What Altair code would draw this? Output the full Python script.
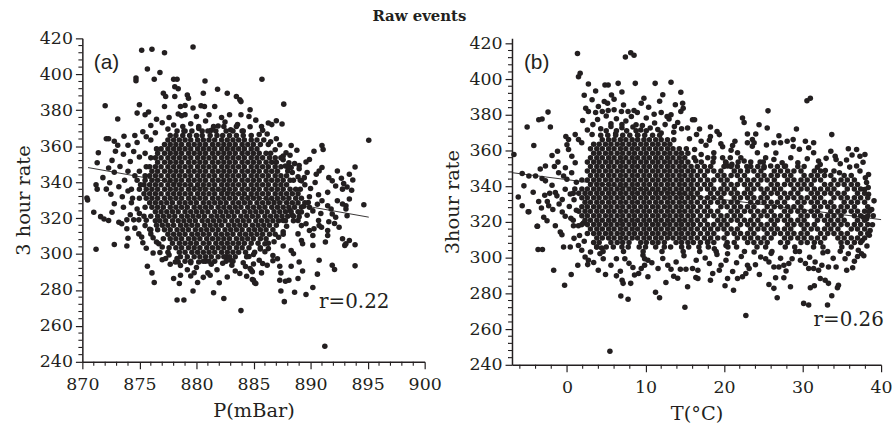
import altair as alt
import pandas as pd

INK = "#231f20"

# ---------------- panel (a): pressure ----------------
a_outer = [
    (875.2, 413.4), (876.1, 414.0), (877.2, 412.0), (879.7, 415.2), (875.7, 402.9), (876.8, 401.0),
    (874.7, 398.0), (874.7, 396.4), (876.3, 397.2), (878.0, 397.2), (878.3, 397.2), (878.1, 393.1),
    (878.4, 391.9), (880.75, 396.3), (877.1, 389.5), (877.3, 387.6), (878.1, 387.6), (879.2, 388.5),
    (879.3, 386.7), (880.6, 389.5), (881.85, 391.7), (882.7, 389.5), (883.5, 387.6), (883.8, 385.8),
    (883.9, 384.8), (872.0, 382.5), (875.0, 383.0), (877.2, 382.1), (878.6, 382.1), (879.0, 382.6),
    (879.7, 381.2), (880.4, 382.5), (880.7, 382.1), (881.6, 382.1), (884.7, 380.3), (874.8, 378.4),
    (875.5, 377.5), (875.8, 379.0), (878.4, 377.9), (878.7, 376.9), (879.0, 377.5), (881.1, 377.5),
    (882.9, 377.5), (883.9, 377.5), (873.1, 375.1), (872.1, 364.1), (872.3, 364.2), (873.65, 365.5),
    (871.4, 356.3), (871.3, 350.8), (872.9, 357.2), (872.6, 352.1), (871.8, 342.5), (871.2, 338.5),
    (871.3, 336.1), (872.1, 336.1), (870.4, 331.1),
    (885.74, 397.2), (887.65, 383.4), (885.7, 371.0), (885.8, 368.8), (886.3, 372.9), (886.6, 372.0),
    (887.0, 374.2), (887.5, 372.4), (887.0, 364.2), (888.3, 360.4), (895.1, 363.3), (890.3, 357.2),
    (891.0, 360.4), (891.1, 358.2), (887.85, 356.3), (887.6, 354.5), (889.9, 352.6), (889.6, 351.2),
    (889.0, 349.3), (888.6, 350.3), (888.1, 350.8), (892.35, 346.2), (893.9, 348.4), (893.4, 344.4),
    (893.7, 341.2), (891.6, 342.5), (891.9, 340.7), (892.7, 342.2), (892.9, 339.2), (893.2, 337.3),
    (893.6, 335.5), (891.5, 334.3), (891.0, 348.1), (890.75, 346.2), (890.5, 344.4), (889.7, 345.3),
    (889.45, 342.5), (889.2, 340.7), (888.3, 348.1), (888.0, 346.2), (892.8, 336.1), (892.2, 337.9),
    (893.4, 330.6), (893.1, 326.9),
    (870.46, 330.0), (871.0, 323.2), (871.6, 320.8), (871.9, 319.5), (872.3, 318.6), (872.6, 323.2),
    (873.2, 317.7), (873.45, 316.8), (873.9, 319.0), (874.5, 319.0), (874.95, 319.0), (873.9, 314.0),
    (874.6, 314.4), (874.95, 311.2), (875.2, 309.4), (871.2, 302.6), (872.8, 305.3), (873.9, 304.4),
    (875.7, 293.2), (876.1, 289.5), (876.3, 284.2), (878.0, 286.4), (878.6, 288.2), (878.5, 283.6),
    (878.3, 274.4), (878.9, 274.4), (879.7, 279.4), (879.5, 287.7), (880.1, 284.2), (879.5, 295.2),
    (877.7, 294.3), (878.15, 295.6), (878.4, 295.6), (881.0, 289.5), (881.2, 288.2), (882.0, 284.0),
    (881.5, 278.5), (882.4, 275.3), (883.9, 268.5), (883.8, 289.1), (884.8, 291.0), (884.9, 285.8),
    (885.1, 284.0), (880.2, 295.6), (881.3, 294.3), (883.1, 293.7), (882.6, 298.4), (876.7, 305.7),
    (877.0, 303.9), (875.5, 315.8), (876.0, 311.2),
    (894.67, 327.4), (893.2, 321.3), (892.5, 314.9), (892.8, 308.5), (893.1, 305.7), (893.0, 304.8),
    (891.5, 313.1), (891.5, 310.3), (891.3, 306.7), (890.2, 304.8), (890.75, 296.5), (891.9, 293.7),
    (892.1, 291.4), (893.9, 293.4), (890.6, 288.8), (890.2, 281.4), (889.6, 277.5), (888.6, 278.7),
    (887.7, 273.5), (887.4, 279.4), (888.9, 286.4), (888.1, 285.4), (891.25, 248.7), (888.3, 293.2),
    (889.0, 295.6), (889.3, 290.6), (887.4, 289.5), (887.3, 285.4), (887.8, 284.9), (885.0, 285.4),
    (885.2, 283.6), (885.7, 289.5), (890.2, 310.3), (890.3, 314.0), (888.3, 302.0), (888.5, 300.2),
    (888.9, 311.2), (889.2, 307.5), (889.3, 305.7), (886.0, 305.7), (886.3, 303.0), (886.7, 299.2),
    (887.1, 297.4), (887.3, 293.2), (885.5, 296.5), (885.8, 294.7), (884.7, 291.9), (884.9, 290.1),
    (892.35, 329.6), (892.8, 327.8), (893.1, 325.0), (891.0, 329.6), (891.5, 326.9), (891.8, 325.0),
    (891.9, 322.3), (892.2, 320.5), (890.7, 318.6), (890.75, 315.8), (890.96, 314.9), (889.6, 316.8),
    (889.9, 313.1), (888.9, 318.6), (889.2, 315.8), (893.4, 307.5), (893.9, 305.2),
]
a_halo_top = [
    (875.3, 368.0), (876.0, 371.5), (876.4, 367.5), (877.0, 373.0), (877.5, 369.5), (878.0, 371.8),
    (878.9, 368.4), (879.5, 372.5), (880.2, 369.8), (880.8, 374.0), (881.3, 368.8), (881.9, 371.2),
    (882.5, 373.5), (883.0, 369.2), (883.6, 372.0), (884.1, 368.5), (884.7, 370.8), (885.2, 374.5),
    (884.6, 376.5), (882.2, 376.0), (880.0, 376.5), (877.6, 376.0), (876.5, 375.0), (885.5, 366.5),
    (886.2, 366.8), (875.6, 365.3), (874.8, 362.0), (874.6, 366.0), (876.0, 363.5), (886.5, 362.5),
    (887.3, 360.8), (886.9, 358.0), (887.6, 352.5), (888.2, 355.0), (888.8, 357.7),
]
a_halo_left = [
    (874.0, 360.5), (874.5, 357.0), (875.0, 354.0), (873.6, 355.5), (874.2, 351.5), (873.3, 348.7),
    (874.0, 346.0), (874.6, 343.6), (873.7, 341.0), (872.8, 345.5), (872.4, 339.6), (873.2, 337.4),
    (874.0, 335.0), (873.5, 331.8), (872.5, 333.2), (874.3, 328.5), (873.6, 326.0), (874.8, 325.0),
    (875.0, 322.5), (872.8, 328.0), (874.2, 321.8), (875.6, 318.8), (875.9, 313.8), (876.2, 309.0),
    (876.5, 306.7), (875.3, 306.3), (874.0, 308.8), (876.8, 300.8), (877.6, 299.5), (877.3, 297.5),
    (872.3, 347.8), (873.1, 360.5), (872.8, 362.8),
]
a_halo_right = [
    (887.8, 349.0), (888.4, 345.3), (889.0, 347.5), (888.9, 343.0), (889.5, 338.5), (890.0, 336.4),
    (890.4, 339.8), (890.7, 333.0), (889.9, 331.8), (890.6, 327.7), (890.2, 324.0), (889.7, 321.6),
    (890.9, 322.5), (889.4, 326.6), (889.0, 320.8), (888.4, 321.6), (889.2, 323.4), (889.8, 328.6),
    (887.9, 315.5), (887.6, 312.4), (887.2, 309.3), (886.8, 306.8), (887.6, 304.4), (886.0, 301.3),
    (886.7, 296.3), (886.2, 293.8), (885.0, 299.7), (885.6, 302.8), (884.6, 298.6), (885.0, 294.4),
    (887.6, 318.7), (888.2, 324.2), (891.6, 318.0), (892.1, 317.0),
]
a_halo_bottom = [
    (878.6, 293.6), (879.2, 291.2), (880.0, 292.5), (880.8, 296.0), (879.8, 289.6), (881.8, 291.3),
    (882.3, 294.8), (883.4, 290.5), (883.0, 296.5), (884.1, 295.1), (884.3, 293.1), (882.7, 287.2),
    (880.6, 287.0), (878.3, 297.5), (877.0, 296.8), (876.2, 300.5), (875.6, 303.2), (884.4, 287.6),
]
a_core_r = [296, 298.5, 301, 303.5, 306, 308.5, 311, 313.5, 316, 318.5, 321, 323.5, 326, 328.5,
            331, 333.5, 336, 338.5, 341, 343.5, 346, 348.5, 351, 353.5, 356, 358.5, 361, 363.5, 366,
            368.5, 371]
a_core_p = [
    [879.0, 879.5, 880.6, 881.1, 881.6, 882.6, 883.2],
    [878.6, 879.2, 879.8, 880.3, 880.8, 881.3, 881.9, 882.4, 882.9, 883.4, 884.4],
    [877.5, 878.5, 879.0, 879.6, 880.1, 880.6, 881.1, 881.6, 882.2, 882.7, 883.2, 883.7, 884.3, 885.1],
    [877.6, 878.2, 878.7, 879.3, 879.8, 880.3, 880.9, 881.4, 881.9, 882.4, 882.9, 883.5, 884.0, 884.6, 885.6],
    [877.9, 878.5, 879.0, 879.5, 880.0, 880.6, 881.1, 881.7, 882.2, 882.7, 883.2, 883.7, 884.2, 884.8, 885.4, 886.3],
    [877.1, 877.7, 878.2, 878.7, 879.3, 879.8, 880.3, 880.9, 881.4, 881.9, 882.4, 882.9, 883.5, 884.0, 884.5, 885.0, 885.6, 886.1],
    [877.5, 878.0, 878.5, 879.0, 879.6, 880.1, 880.6, 881.1, 881.7, 882.2, 882.7, 883.2, 883.8, 884.3, 884.8, 885.3, 885.8, 886.4, 886.9, 887.6],
    [876.0, 876.6, 877.2, 877.7, 878.3, 878.8, 879.3, 879.9, 880.4, 880.9, 881.4, 881.9, 882.5, 883.0, 883.5, 884.0, 884.6, 885.1, 885.6, 886.1, 886.7],
    [876.5, 877.0, 877.5, 878.0, 878.6, 879.1, 879.6, 880.1, 880.7, 881.2, 881.7, 882.2, 882.8, 883.3, 883.8, 884.3, 884.9, 885.4, 885.9, 886.4, 887.0],
    [876.4, 876.8, 877.3, 877.9, 878.4, 878.9, 879.4, 879.9, 880.5, 881.0, 881.5, 882.0, 882.5, 883.1, 883.6, 884.1, 884.6, 885.2, 885.7, 886.2, 886.7, 887.2, 887.8, 888.5],
    [875.4, 876.0, 876.6, 877.1, 877.6, 878.1, 878.7, 879.2, 879.7, 880.2, 880.7, 881.3, 881.8, 882.3, 882.8, 883.3, 883.9, 884.4, 884.9, 885.4, 886.0, 886.5, 887.0, 887.5, 888.0, 888.5],
    [876.4, 876.9, 877.4, 877.9, 878.4, 879.0, 879.5, 880.0, 880.5, 881.0, 881.6, 882.1, 882.6, 883.1, 883.6, 884.2, 884.7, 885.2, 885.7, 886.2, 886.8, 887.3, 887.8, 888.3, 888.9],
    [875.5, 876.1, 876.6, 877.1, 877.7, 878.2, 878.7, 879.2, 879.8, 880.3, 880.8, 881.3, 881.9, 882.4, 882.9, 883.4, 883.9, 884.5, 885.0, 885.5, 886.0, 886.6, 887.1, 887.6, 888.1, 888.6, 889.2, 889.9],
    [875.9, 876.4, 876.9, 877.4, 877.9, 878.5, 879.0, 879.5, 880.0, 880.6, 881.1, 881.6, 882.1, 882.6, 883.2, 883.7, 884.2, 884.7, 885.3, 885.8, 886.3, 886.8, 887.3, 887.9, 888.4, 888.9, 889.5],
    [874.4, 875.0, 875.6, 876.1, 876.6, 877.2, 877.7, 878.2, 878.7, 879.3, 879.8, 880.3, 880.8, 881.4, 881.9, 882.4, 882.9, 883.4, 884.0, 884.5, 885.0, 885.5, 886.1, 886.6, 887.1, 887.6, 888.1, 888.7, 889.2],
    [875.4, 875.9, 876.4, 876.9, 877.5, 878.0, 878.5, 879.0, 879.5, 880.1, 880.6, 881.1, 881.6, 882.2, 882.7, 883.2, 883.7, 884.2, 884.8, 885.3, 885.8, 886.3, 886.9, 887.4, 887.9, 888.4, 888.9],
    [874.3, 875.0, 875.6, 876.1, 876.6, 877.2, 877.7, 878.2, 878.7, 879.3, 879.8, 880.3, 880.8, 881.4, 881.9, 882.4, 882.9, 883.4, 884.0, 884.5, 885.0, 885.5, 886.1, 886.6, 887.1, 887.6, 888.2, 888.7, 889.1],
    [875.1, 875.4, 875.9, 876.4, 876.9, 877.5, 878.0, 878.5, 879.0, 879.5, 880.1, 880.6, 881.1, 881.6, 882.2, 882.7, 883.2, 883.7, 884.2, 884.8, 885.3, 885.8, 886.3, 886.9, 887.4, 887.9],
    [874.8, 875.5, 876.1, 876.6, 877.2, 877.7, 878.2, 878.7, 879.3, 879.8, 880.3, 880.8, 881.4, 881.9, 882.4, 882.9, 883.4, 884.0, 884.5, 885.0, 885.5, 886.1, 886.6, 887.1, 887.6, 888.2, 888.5, 889.1],
    [875.5, 875.9, 876.4, 876.9, 877.5, 878.0, 878.5, 879.0, 879.5, 880.1, 880.6, 881.1, 881.6, 882.2, 882.7, 883.2, 883.7, 884.2, 884.8, 885.3, 885.8, 886.3, 886.9, 887.4, 887.9],
    [875.0, 876.1, 876.6, 877.2, 877.7, 878.2, 878.7, 879.3, 879.8, 880.3, 880.8, 881.4, 881.9, 882.4, 882.9, 883.4, 884.0, 884.5, 885.0, 885.5, 886.1, 886.6, 887.1],
    [875.6, 875.9, 876.4, 876.9, 877.5, 878.0, 878.5, 879.0, 879.5, 880.1, 880.6, 881.1, 881.6, 882.2, 882.7, 883.2, 883.7, 884.2, 884.8, 885.3, 885.8, 886.3, 886.9, 887.4, 888.0],
    [876.6, 877.2, 877.7, 878.2, 878.7, 879.3, 879.8, 880.3, 880.8, 881.4, 881.9, 882.4, 882.9, 883.4, 884.0, 884.5, 885.0, 885.5, 886.1, 886.6, 887.0],
    [876.0, 876.4, 876.9, 877.5, 878.0, 878.5, 879.0, 879.5, 880.1, 880.6, 881.1, 881.6, 882.2, 882.7, 883.2, 883.7, 884.2, 884.8, 885.3, 885.8, 886.4, 886.9, 887.4],
    [875.5, 876.6, 877.2, 877.7, 878.2, 878.7, 879.3, 879.8, 880.3, 880.8, 881.4, 881.9, 882.4, 882.9, 883.4, 884.0, 884.5, 885.0, 885.5, 886.1, 886.5],
    [876.5, 876.9, 877.5, 878.0, 878.5, 879.0, 879.5, 880.1, 880.6, 881.1, 881.6, 882.2, 882.7, 883.2, 883.7, 884.2, 884.8, 885.3],
    [877.2, 877.7, 878.2, 878.7, 879.3, 879.8, 880.3, 880.8, 881.4, 881.9, 882.4, 882.9, 883.4, 884.0, 884.5, 885.0, 885.6, 886.3],
    [877.5, 878.0, 878.5, 879.0, 879.5, 880.1, 880.6, 881.1, 881.6, 882.2, 882.7, 883.2, 883.7, 884.2, 884.8, 885.3, 885.9],
    [877.7, 878.2, 878.8, 879.4, 880.0, 880.5, 881.2, 881.8, 882.3, 882.9, 883.5, 884.1, 884.8],
    [878.3, 879.0, 879.6, 880.5, 881.0, 881.7, 882.6, 883.2, 884.0],
    [878.8, 880.2, 881.5, 882.4, 883.5],
]
a_fit_p = [870.5, 895.1]
a_fit_r = [348.1, 320.5]

# ---------------- panel (b): temperature ----------------
b_outer = [
    (1.34, 414.3), (7.44, 412.4), (8.12, 414.8), (8.54, 413.3), (1.47, 401.3), (1.68, 403.2),
    (2.73, 397.2), (3.65, 393.3), (4.84, 396.7), (5.25, 396.7), (6.52, 397.6), (8.7, 397.6),
    (11.23, 397.6), (13.25, 398.2), (14.5, 392.6), (14.73, 386.5), (14.8, 383.7), (14.5, 381.8),
    (5.67, 391.1), (6.0, 388.7), (4.75, 387.4), (5.17, 386.5), (9.8, 389.3), (9.46, 386.5),
    (2.39, 383.7), (2.73, 381.8), (3.65, 381.3), (4.5, 381.8), (5.25, 382.4), (6.0, 382.8),
    (6.94, 381.8), (7.78, 381.8), (8.54, 382.4), (8.96, 381.3), (12.0, 381.3), (12.75, 379.1),
    (13.25, 380.0), (-2.41, 381.5), (-3.17, 377.6), (-3.59, 377.2), (-5.07, 373.2), (-2.11, 373.2),
    (-4.22, 362.8), (-6.75, 357.8), (-1.9, 357.2), (-2.74, 351.3), (-1.15, 353.5), (-5.7, 347.1),
    (-4.85, 345.7), (-4.0, 345.7), (-3.17, 344.3), (-2.74, 343.0), (-5.48, 340.2), (-2.83, 335.0),
    (-1.48, 336.5), (-1.28, 334.6), (-0.14, 367.9), (0.2, 366.1), (1.05, 368.9), (1.47, 366.1),
    (1.88, 364.3), (0.2, 360.6), (0.62, 356.8), (1.05, 353.2), (-1.06, 347.6), (-0.43, 345.7),
    (-0.01, 343.9), (-0.22, 338.3), (0.42, 335.6), (15.36, 372.6), (15.99, 377.2), (11.16, 375.4),
    (11.57, 371.7), (12.0, 369.8), (13.68, 373.5), (14.1, 375.7),
    (30.56, 387.9), (30.99, 389.3), (25.6, 382.2), (33.72, 368.9), (22.35, 378.2), (22.56, 375.7),
    (24.46, 374.4), (25.5, 372.6), (29.22, 372.1), (18.27, 373.2), (16.88, 372.1), (16.25, 377.2),
    (19.11, 370.7), (19.4, 368.9), (18.27, 367.9), (22.98, 369.3), (24.04, 369.3), (23.61, 366.1),
    (22.98, 364.3), (23.83, 364.3), (26.99, 368.3), (26.35, 364.3), (27.2, 364.3), (28.04, 365.2),
    (28.8, 366.1), (30.36, 365.2), (31.41, 364.3), (21.39, 365.2), (21.09, 362.8), (19.82, 362.1),
    (17.09, 365.2), (18.14, 365.7), (35.83, 361.0), (36.88, 360.6), (37.31, 356.8), (37.94, 357.8),
    (34.15, 356.8), (34.27, 355.0), (30.78, 361.5), (31.41, 358.7), (32.04, 354.1), (32.25, 352.2),
    (25.3, 355.9), (26.35, 355.0), (27.4, 353.2), (27.83, 351.3), (25.09, 350.4), (25.94, 351.3),
    (16.25, 360.6), (17.09, 357.8), (17.93, 355.9), (19.82, 355.9), (20.25, 353.2), (20.45, 351.3),
    (21.72, 358.7), (22.14, 355.9), (22.56, 354.1), (23.6, 362.4), (24.25, 358.7), (38.15, 342.1),
    (38.36, 339.3), (36.88, 351.3), (37.31, 348.5),
    (-5.7, 329.1), (-4.85, 325.7), (-3.25, 327.8), (-2.33, 329.1), (-2.96, 322.6), (-2.54, 320.7),
    (-3.8, 317.6), (-3.68, 304.6), (-1.48, 317.9), (-0.85, 314.3), (-0.64, 312.8), (-0.22, 323.2),
    (0.83, 317.9), (1.46, 317.9), (2.1, 319.4), (-1.69, 293.0), (-0.3, 284.6), (0.54, 290.6),
    (-0.43, 306.0), (0.42, 306.0), (1.38, 295.7), (1.46, 306.8), (1.88, 304.1), (2.31, 300.4),
    (2.73, 298.5), (2.64, 296.1), (3.99, 293.0), (4.91, 290.6), (3.78, 306.0), (4.41, 305.4),
    (4.2, 302.2), (4.62, 299.4), (5.47, 247.6), (6.86, 278.5), (7.78, 276.7), (7.02, 287.4),
    (7.15, 285.6), (8.12, 285.6), (6.3, 299.4), (7.37, 299.4), (9.13, 291.1), (9.46, 293.9),
    (9.89, 295.7), (10.31, 289.3), (10.81, 297.1), (11.28, 280.6), (11.79, 277.6), (13.59, 289.6),
    (14.44, 293.5), (15.15, 293.5), (15.99, 293.9), (15.36, 283.7), (15.02, 272.2), (16.41, 288.9),
    (12.84, 295.7), (13.25, 293.5), (9.68, 301.3), (9.89, 299.4), (10.31, 298.5),
    (22.78, 267.6), (30.14, 274.4), (30.78, 273.5), (33.18, 273.5), (33.72, 278.7), (34.57, 284.6),
    (34.44, 283.2), (32.25, 288.3), (32.88, 287.4), (33.3, 285.6), (30.99, 283.2), (31.5, 284.3),
    (26.77, 277.6), (25.72, 285.0), (26.35, 282.8), (26.57, 288.7), (27.62, 288.7), (28.46, 283.7),
    (21.21, 281.8), (20.13, 284.3), (20.45, 288.3), (21.72, 288.3), (22.35, 289.3), (22.78, 291.1),
    (23.2, 293.9), (22.99, 295.7), (18.27, 287.4), (18.56, 291.1), (19.4, 292.9), (19.62, 295.7),
    (20.25, 298.5), (18.14, 296.7), (16.67, 288.3), (26.35, 294.8), (26.99, 294.8), (27.62, 295.7),
    (28.25, 296.7), (28.67, 299.4), (29.73, 298.5), (30.36, 296.7), (30.78, 293.9), (31.41, 293.9),
    (32.04, 292.9), (32.46, 295.7), (33.3, 294.8), (34.27, 294.8), (35.62, 292.9), (36.38, 294.3),
    (35.41, 299.4), (35.83, 302.2), (37.1, 304.1), (37.51, 302.2), (25.3, 299.4), (25.72, 297.6),
    (24.67, 300.4), (23.83, 303.2), (20.45, 302.2), (20.25, 306.8), (18.77, 305.0), (17.93, 308.7),
    (16.46, 298.5), (16.67, 293.0), (38.15, 321.7), (37.73, 322.6), (-4.94, 325.7), (-3.75, 317.6),
    (-3.12, 304.6),
]
b_halo_left = [
    (-2.5, 331.5), (-1.9, 340.6), (-1.0, 330.0), (-0.6, 325.6), (0.3, 328.7), (0.9, 332.4),
    (-0.2, 350.4), (0.6, 347.6), (1.2, 342.2), (1.0, 338.4), (-1.2, 359.6), (0.0, 363.2),
    (-0.6, 332.5), (0.5, 322.0), (1.2, 326.5), (-1.8, 327.0), (-2.2, 336.0), (-3.6, 331.5),
    (-4.3, 336.6), (-6.2, 334.0), (-3.4, 349.6), (-1.6, 351.0),
]
b_halo_top = [
    (2.6, 371.5), (3.3, 374.5), (3.9, 377.4), (4.3, 372.2), (5.0, 379.3), (5.6, 375.0),
    (6.3, 377.8), (7.0, 372.7), (7.5, 376.5), (8.2, 379.0), (8.8, 374.4), (9.4, 371.5),
    (10.1, 378.2), (10.6, 372.6), (11.1, 380.3), (12.5, 374.5), (13.0, 377.6), (13.6, 370.2),
    (14.6, 372.2), (3.2, 369.0), (6.2, 369.4), (9.0, 368.5), (2.0, 376.8), (4.0, 384.6),
    (7.2, 385.5), (10.4, 384.2), (11.8, 387.6), (3.2, 388.4), (12.2, 391.2), (2.2, 391.0),
    (7.0, 392.8), (13.8, 385.6), (5.6, 373.5), (7.0, 374.6), (8.4, 373.2), (9.6, 374.0),
]
b_halo_right = [
    (16.4, 354.2), (18.7, 358.8), (19.6, 363.8), (21.0, 352.3), (22.9, 351.0), (24.6, 353.6),
    (26.6, 358.6), (28.5, 356.0), (29.4, 353.1), (29.6, 360.7), (30.6, 355.4), (31.9, 350.6),
    (33.0, 355.6), (33.6, 359.6), (34.8, 352.6), (35.6, 354.7), (36.3, 357.5), (36.0, 350.7),
    (37.7, 353.4), (38.4, 346.6), (38.0, 344.8), (32.9, 348.8), (34.7, 347.6), (28.8, 362.2),
    (25.4, 363.1), (20.9, 360.1), (17.7, 362.9), (15.6, 366.6), (16.5, 369.0),
    (38.8, 326.9), (39.1, 331.8), (38.4, 335.5), (37.9, 338.2), (39.0, 323.4), (38.6, 315.2),
]
b_halo_bottom = [
    (5.6, 295.7), (6.8, 292.4), (7.9, 296.8), (8.6, 290.3), (11.6, 293.9), (12.2, 299.5),
    (13.9, 297.6), (14.9, 301.1), (16.9, 303.5), (17.6, 299.8), (19.1, 301.8), (21.6, 297.2),
    (22.2, 300.6), (24.0, 296.0), (26.0, 302.4), (27.2, 299.6), (29.1, 303.4), (30.9, 300.2),
    (32.6, 302.7), (33.9, 299.6), (34.8, 303.6), (36.6, 298.0), (37.8, 301.1), (31.6, 297.6),
    (27.9, 292.5), (24.5, 290.6), (21.1, 292.3), (14.1, 288.5), (12.6, 286.1), (8.4, 294.5),
    (6.3, 289.8), (3.4, 297.3), (3.0, 303.2), (2.2, 309.2), (1.6, 312.4), (0.9, 310.8),
    (38.2, 306.5), (37.6, 309.6), (38.5, 312.6), (38.9, 318.4), (37.0, 300.6),
]
b_core_r = [303.5, 306, 308.5, 311, 313.5, 316, 318.5, 321, 323.5, 326, 328.5, 331, 333.5, 336,
            338.5, 341, 343.5, 346, 348.5, 351, 353.5, 356, 358.5, 361, 363.5, 366, 368.5, 371]
b_core_t = [
    [4.6, 7.2, 9.7, 12.1, 14.8, 19.0, 22.6, 26.1, 29.6, 33.2],
    [3.8, 5.0, 5.9, 7.0, 7.8, 9.2, 10.0, 11.3, 12.4, 13.2, 14.6, 15.5, 16.8, 18.0, 20.5, 21.6, 24.2, 25.3, 27.8, 29.0, 31.4, 32.6, 35.0, 36.2],
    [3.4, 4.1, 5.6, 6.4, 7.1, 7.9, 9.4, 10.1, 10.9, 11.6, 12.4, 13.9, 14.6, 15.4, 16.1,
     17.0, 17.9, 18.7, 20.4, 21.3, 23.0, 23.8, 24.7, 25.5, 27.2, 28.1, 29.8, 30.6, 31.5, 32.3, 34.9, 35.7, 36.6, 37.4],
    [3.8, 4.5, 5.3, 6.0, 6.8, 7.5, 8.3, 9.0, 9.8, 10.5, 11.3, 12.0, 12.8, 13.5, 14.3, 15.0, 15.8,
     16.6, 17.5, 18.3, 19.2, 20.0, 21.7, 22.6, 23.4, 24.3, 25.1, 26.0, 27.7, 28.5, 29.4, 30.2, 31.1, 31.9, 32.8, 34.5, 35.3, 36.2, 37.0, 37.9],
    [2.6, 3.4, 4.1, 4.9, 5.6, 6.4, 7.1, 7.9, 8.6, 9.4, 10.1, 10.9, 11.6, 12.4, 13.1, 13.9, 14.6, 15.4, 16.1,
     17.0, 17.9, 18.7, 20.4, 21.3, 22.1, 23.0, 23.8, 25.5, 26.4, 27.2, 28.1, 28.9, 29.8, 30.6, 32.3, 33.2, 34.0, 34.9, 35.7, 37.4, 38.3],
    [3.0, 3.8, 4.5, 5.3, 6.0, 6.8, 7.5, 8.3, 9.0, 9.8, 10.5, 11.3, 12.0, 12.8, 13.5, 14.3, 15.0, 15.8,
     16.6, 17.5, 18.3, 19.2, 20.0, 20.9, 21.7, 23.4, 24.3, 25.1, 26.0, 26.8, 27.7, 28.5, 30.2, 31.1, 31.9, 32.8, 33.6, 34.5, 36.2, 37.0, 37.9],
    [1.9, 2.6, 3.4, 4.1, 4.9, 5.6, 6.4, 7.1, 7.9, 8.6, 9.4, 10.1, 10.9, 11.6, 12.4, 13.1, 13.9, 14.6, 15.4, 16.1,
     17.0, 17.9, 18.7, 19.6, 20.4, 22.1, 23.0, 23.8, 24.7, 25.5, 26.4, 28.1, 28.9, 29.8, 30.6, 31.5, 33.2, 34.0, 34.9, 35.7, 36.6, 37.4, 38.3],
    [0.8, 2.3, 3.0, 3.8, 4.5, 5.3, 6.0, 6.8, 7.5, 8.3, 9.0, 9.8, 10.5, 11.3, 12.0, 12.8, 13.5, 14.3, 15.0, 15.8,
     16.6, 17.5, 19.2, 20.0, 20.9, 21.7, 22.6, 23.4, 24.3, 26.0, 26.8, 27.7, 28.5, 29.4, 30.2, 31.9, 32.8, 33.6, 34.5, 35.3, 37.0, 37.9],
    [1.9, 2.6, 3.4, 4.1, 4.9, 5.6, 6.4, 7.1, 7.9, 8.6, 9.4, 10.1, 10.9, 11.6, 12.4, 13.1, 13.9, 14.6, 15.4, 16.1,
     17.0, 17.9, 18.7, 19.6, 20.4, 21.3, 22.1, 23.8, 24.7, 25.5, 26.4, 27.2, 28.1, 29.8, 30.6, 31.5, 32.3, 33.2, 34.0, 34.9, 36.6, 37.4, 38.3],
    [1.5, 2.3, 3.0, 3.8, 4.5, 5.3, 6.0, 6.8, 7.5, 8.3, 9.0, 9.8, 10.5, 11.3, 12.0, 12.8, 13.5, 14.3, 15.0, 15.8,
     16.6, 17.5, 18.3, 19.2, 20.9, 21.7, 22.6, 23.4, 24.3, 25.1, 26.0, 27.7, 28.5, 29.4, 30.2, 31.1, 31.9, 33.6, 34.5, 35.3, 36.2, 37.0, 37.9, 38.5],
    [1.9, 2.6, 3.4, 4.1, 4.9, 5.6, 6.4, 7.1, 7.9, 8.6, 9.4, 10.1, 10.9, 11.6, 12.4, 13.1, 13.9, 14.6, 15.4, 16.1,
     17.0, 17.9, 19.6, 20.4, 21.3, 22.1, 23.0, 23.8, 25.5, 26.4, 27.2, 28.1, 28.9, 29.8, 31.5, 32.3, 33.2, 34.0, 34.9, 35.7, 36.6, 38.3],
    [2.3, 3.0, 3.8, 4.5, 5.3, 6.0, 6.8, 7.5, 8.3, 9.0, 9.8, 10.5, 11.3, 12.0, 12.8, 13.5, 14.3, 15.0, 15.8,
     16.6, 17.5, 18.3, 19.2, 20.0, 20.9, 21.7, 23.4, 24.3, 25.1, 26.0, 26.8, 27.7, 29.4, 30.2, 31.1, 31.9, 32.8, 33.6, 35.3, 36.2, 37.0, 37.9],
    [1.9, 2.6, 3.4, 4.1, 4.9, 5.6, 6.4, 7.1, 7.9, 8.6, 9.4, 10.1, 10.9, 11.6, 12.4, 13.1, 13.9, 14.6, 15.4, 16.1,
     17.0, 17.9, 18.7, 19.6, 21.3, 22.1, 23.0, 23.8, 24.7, 25.5, 27.2, 28.1, 28.9, 29.8, 30.6, 31.5, 32.3, 34.0, 34.9, 35.7, 36.6, 37.4, 38.3],
    [0.8, 1.5, 2.3, 3.0, 3.8, 4.5, 5.3, 6.0, 6.8, 7.5, 8.3, 9.0, 9.8, 10.5, 11.3, 12.0, 12.8, 13.5, 14.3, 15.0, 15.8,
     16.6, 18.3, 19.2, 20.0, 20.9, 21.7, 22.6, 23.4, 25.1, 26.0, 26.8, 27.7, 28.5, 29.4, 31.1, 31.9, 32.8, 33.6, 34.5, 35.3, 37.0, 37.9],
    [1.9, 2.6, 3.4, 4.1, 4.9, 5.6, 6.4, 7.1, 7.9, 8.6, 9.4, 10.1, 10.9, 11.6, 12.4, 13.1, 13.9, 14.6, 15.4, 16.1,
     17.0, 17.9, 18.7, 19.6, 20.4, 21.3, 23.0, 23.8, 24.7, 25.5, 26.4, 27.2, 28.9, 29.8, 30.6, 31.5, 32.3, 33.2, 34.0, 35.7, 36.6, 37.4],
    [3.0, 3.8, 4.5, 5.3, 6.0, 6.8, 7.5, 8.3, 9.0, 9.8, 10.5, 11.3, 12.0, 12.8, 13.5, 14.3, 15.0, 15.8,
     16.6, 17.5, 18.3, 20.0, 20.9, 21.7, 22.6, 23.4, 24.3, 26.0, 26.8, 27.7, 28.5, 29.4, 30.2, 31.1, 32.8, 33.6, 34.5, 35.3, 36.2, 37.0],
    [1.9, 2.6, 3.4, 4.1, 4.9, 5.6, 6.4, 7.1, 7.9, 8.6, 9.4, 10.1, 10.9, 11.6, 12.4, 13.1, 13.9, 14.6, 15.4, 16.1,
     17.0, 17.9, 18.7, 19.6, 20.4, 22.1, 23.0, 23.8, 24.7, 25.5, 26.4, 28.1, 28.9, 29.8, 30.6, 31.5, 32.3, 34.0, 34.9, 35.7, 36.6],
    [3.0, 3.8, 4.5, 5.3, 6.0, 6.8, 7.5, 8.3, 9.0, 9.8, 10.5, 11.3, 12.0, 12.8, 13.5, 14.3, 15.0, 15.8,
     16.6, 17.5, 19.2, 20.0, 20.9, 21.7, 22.6, 24.3, 25.1, 26.0, 26.8, 27.7, 28.5, 30.2, 31.1, 31.9, 32.8, 33.6, 35.3, 36.2],
    [2.6, 3.4, 4.1, 4.9, 5.6, 6.4, 7.1, 7.9, 8.6, 9.4, 10.1, 10.9, 11.6, 12.4, 13.1, 13.9, 14.6, 15.4, 16.1,
     17.0, 17.9, 18.7, 19.6, 21.3, 22.1, 23.0, 23.8, 24.7, 26.4, 27.2, 28.1, 28.9, 29.8, 31.5, 32.3, 34.0],
    [3.0, 3.8, 4.5, 5.3, 6.0, 6.8, 7.5, 8.3, 9.0, 9.8, 10.5, 11.3, 12.0, 12.8, 13.5, 14.3, 15.0, 15.8,
     16.6, 17.5, 18.3, 20.0, 20.9, 21.7, 23.4, 24.3, 25.1, 26.8, 27.7, 29.4, 30.2],
    [2.6, 3.4, 4.1, 4.9, 5.6, 6.4, 7.1, 7.9, 8.6, 9.4, 10.1, 10.9, 11.6, 12.4, 13.1, 13.9, 14.6, 15.4, 17.1, 18.6, 20.2, 21.8, 23.4, 25.0],
    [3.0, 3.8, 4.5, 5.3, 6.0, 6.8, 7.5, 8.3, 9.0, 9.8, 10.5, 11.3, 12.0, 12.8, 13.5, 14.3, 15.0, 16.2, 18.7, 20.8],
    [3.4, 4.1, 4.9, 5.6, 6.4, 7.1, 7.9, 8.6, 9.4, 10.1, 10.9, 11.6, 12.4, 13.1, 13.9, 14.6, 15.4],
    [3.0, 3.8, 4.5, 5.3, 6.0, 6.8, 7.5, 8.3, 9.0, 9.8, 10.5, 11.3, 12.0, 12.8, 13.5, 14.3, 15.2],
    [3.4, 4.1, 4.9, 5.6, 6.4, 7.1, 7.9, 8.6, 9.4, 10.1, 10.9, 11.6, 12.4, 13.1],
    [4.5, 5.3, 6.0, 6.8, 7.5, 8.3, 9.0, 9.8, 10.5, 11.3, 12.0, 12.8, 13.6],
    [4.3, 5.2, 6.2, 7.1, 8.0, 9.0, 9.9, 10.9, 11.8],
    [5.0, 6.3, 7.6, 8.8, 10.1],
]
b_fit_t = [-7.0, 40.0]
b_fit_r = [347.6, 321.3]

# ---------------- axes ----------------
rate_major = [240, 260, 280, 300, 320, 340, 360, 380, 400, 420]
rate_minor = [244, 248, 252, 256, 264, 268, 272, 276, 284, 288, 292, 296, 304, 308, 312, 316,
              324, 328, 332, 336, 344, 348, 352, 356, 364, 368, 372, 376, 384, 388, 392, 396,
              404, 408, 412, 416]
p_major = [870, 875, 880, 885, 890, 895, 900]
p_minor = [871, 872, 873, 874, 876, 877, 878, 879, 881, 882, 883, 884, 886, 887, 888, 889,
           891, 892, 893, 894, 896, 897, 898, 899]
t_major = [0, 10, 20, 30, 40]
t_minor = [-6, -4, -2, 2, 4, 6, 8, 12, 14, 16, 18, 22, 24, 26, 28, 32, 34, 36, 38]

SERIF = "DejaVu Serif"


def frame_points(groups, core_y, core_x):
    xs, ys = [], []
    for g in groups:
        for x, y in g:
            xs.append(x)
            ys.append(y)
    for yv, row in zip(core_y, core_x):
        for x in row:
            xs.append(x)
            ys.append(yv)
    return pd.DataFrame({"x": xs, "y": ys})


def axis(values, title, is_x):
    kw = dict(values=values, title=title, grid=False, tickSize=7, tickWidth=1.2, tickColor=INK,
              domainColor=INK, domainWidth=1.5, labelFont=SERIF, labelFontSize=17.5, labelColor=INK,
              titleFont=SERIF, titleFontSize=19.5, titleFontWeight="normal", titleColor=INK,
              labelOverlap=False, format="d")
    if is_x:
        kw.update(labelFlush=False, labelPadding=7, titlePadding=9)
    else:
        kw.update(labelPadding=3, titlePadding=6)
    return alt.Axis(**kw)


def panel(df, fit_x, fit_y, xdom, ydom, W, H, xmaj, xmin, ymaj, ymin, xtitle, ytitle,
          tag, tag_xy, rlab, rlab_xy, title=None):
    xs = alt.Scale(domain=xdom, nice=False, zero=False)
    ys = alt.Scale(domain=ydom, nice=False, zero=False)
    ax_x = axis(xmaj, xtitle, True)
    ax_y = axis(ymaj, ytitle, False)

    def X(f):
        return alt.X(f, scale=xs, axis=ax_x)

    def Y(f):
        return alt.Y(f, scale=ys, axis=ax_y)

    pts = alt.Chart(df).mark_circle(size=31, color=INK, opacity=1).encode(x=X("x:Q"), y=Y("y:Q"))
    fit = alt.Chart(pd.DataFrame({"x": fit_x, "y": fit_y})).mark_line(
        color=INK, strokeWidth=0.9).encode(x=X("x:Q"), y=Y("y:Q"))
    ymt = alt.Chart(pd.DataFrame({"y": ymin})).mark_rule(color=INK, strokeWidth=1.1).encode(
        y=Y("y:Q"), x=alt.value(-4), x2=alt.value(0))
    xmt = alt.Chart(pd.DataFrame({"x": xmin})).mark_rule(color=INK, strokeWidth=1.1).encode(
        x=X("x:Q"), y=alt.value(H), y2=alt.value(H + 4))
    tag_t = alt.Chart(pd.DataFrame({"x": [tag_xy[0]], "y": [tag_xy[1]], "t": [tag]})).mark_text(
        font="Liberation Sans", fontSize=21, color=INK, align="left", baseline="middle").encode(
        x=X("x:Q"), y=Y("y:Q"), text="t:N")
    r_t = alt.Chart(pd.DataFrame({"x": [rlab_xy[0]], "y": [rlab_xy[1]], "t": [rlab]})).mark_text(
        font=SERIF, fontSize=20, color=INK, align="left", baseline="alphabetic").encode(
        x=X("x:Q"), y=Y("y:Q"), text="t:N")
    props = dict(width=W, height=H)
    if title is not None:
        props["title"] = title
    return alt.layer(pts, fit, ymt, xmt, tag_t, r_t).properties(**props)


df_a = frame_points([a_outer, a_halo_top, a_halo_left, a_halo_right, a_halo_bottom], a_core_r, a_core_p)
df_b = frame_points([b_outer, b_halo_left, b_halo_top, b_halo_right, b_halo_bottom], b_core_r, b_core_t)

title = alt.TitleParams("Raw events", font=SERIF, fontSize=15, fontWeight="bold", color=INK,
                        anchor="end", frame="group", dx=42, offset=6)

pa = panel(df_a, a_fit_p, a_fit_r, [870, 900], [240, 420], 345, 326, p_major, p_minor,
           rate_major, rate_minor, "P(mBar)", "3 hour rate", "(a)", (871.0, 406.5),
           "r=0.22", (890.75, 269.8), title=title)
pb = panel(df_b, b_fit_t, b_fit_r, [-7, 40], [240, 422.8], 372, 329, t_major, t_minor,
           rate_major, rate_minor, "T(\u00b0C)", "3hour rate", "(b)", (-5.48, 409.2),
           "r=0.26", (31.4, 261.5))

chart = alt.hconcat(pa, pb, spacing=88, bounds="flush").properties(
    padding={"left": 13, "top": 7, "right": 0, "bottom": 0}, background="white"
).configure_view(stroke=None)

chart.save("out.html", embed_options={"renderer": "svg", "actions": False})
